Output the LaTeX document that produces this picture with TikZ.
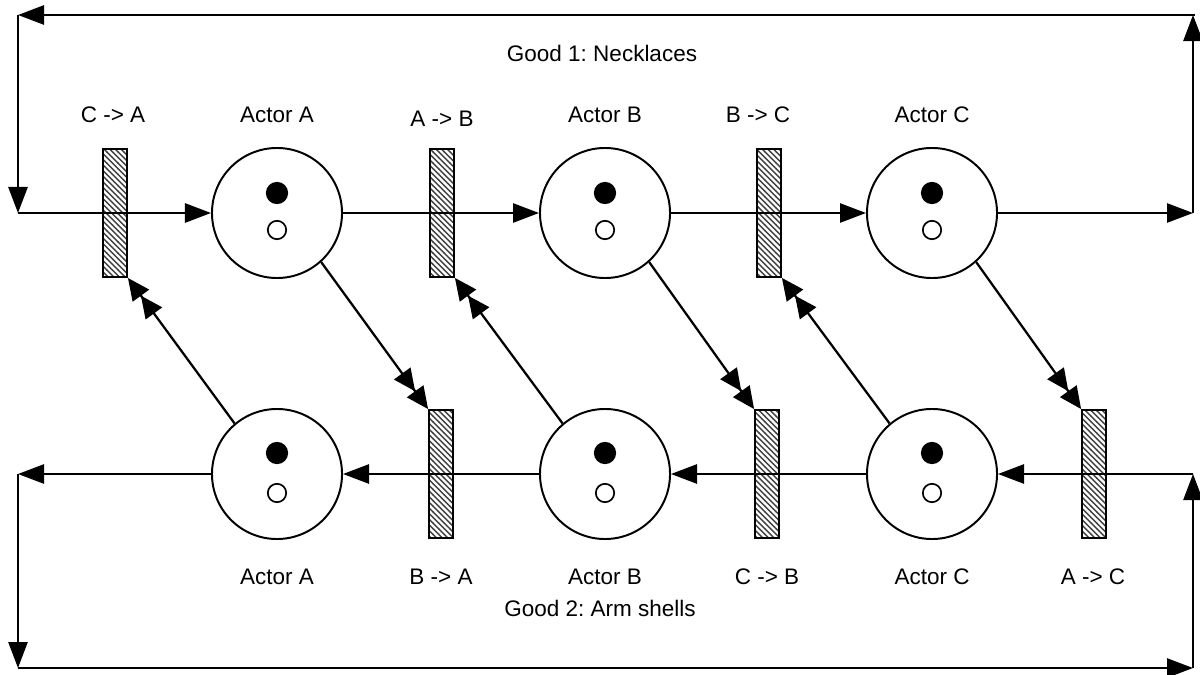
\documentclass[tikz,border=0pt]{standalone}
\usepackage{fontspec}
\setmainfont{Liberation Sans}
\usetikzlibrary{arrows.meta,patterns}

\pgfdeclarepatternformonly{hatch}{\pgfqpoint{-1pt}{-1pt}}{\pgfqpoint{5pt}{5pt}}{\pgfqpoint{4pt}{4pt}}{%
  \pgfsetlinewidth{1pt}%
  \pgfpathmoveto{\pgfqpoint{-0.1pt}{4.1pt}}%
  \pgfpathlineto{\pgfqpoint{4.1pt}{-0.1pt}}%
  \pgfusepath{stroke}}

\tikzset{
  actor/.style={circle,draw,line width=1.4pt,minimum size=3.25cm,inner sep=0pt},
  gate/.style={rectangle,draw,line width=1.3pt,minimum width=0.6cm,minimum height=3.2cm,inner sep=0pt,pattern=hatch,pattern color=black!75},
  tokfull/.style={circle,draw,fill=black,line width=1pt,minimum size=0.52cm,inner sep=0pt},
  tokopen/.style={circle,draw,fill=white,line width=1.2pt,minimum size=0.46cm,inner sep=0pt},
  flow/.style={line width=1.4pt,-{Triangle[length=0.65cm,width=0.48cm]}},
  cross/.style={line width=1.6pt,-{Triangle[length=0.55cm,width=0.5cm]Triangle[length=0.55cm,width=0.5cm]}},
  lbl/.style={anchor=base,font=\fontsize{16}{19}\selectfont},
}

\begin{document}
\frenchspacing
\begin{tikzpicture}[x=0.025cm,y=-0.025cm]
  \useasboundingbox (0,0) rectangle (1200,675);
  % corners of the outer loops
  \coordinate (tl) at (18,15);
  \coordinate (tr) at (1195,15);
  \coordinate (ml) at (18,213);
  \coordinate (mr) at (1193,213);
  \coordinate (nl) at (18,474);
  \coordinate (nr) at (1193,474);
  \coordinate (bl) at (18,668);
  \coordinate (br) at (1193,668);
  % actors with their tokens
  \foreach \n/\x in {A/277,B/605,C/932} {
    \node[actor] (\n1) at (\x,213) {};
    \node[tokfull] (\n1f) at (\x,193) {};
    \node[tokopen] (\n1o) at (\x,230) {};
    \node[actor] (\n2) at (\x,474) {};
    \node[tokfull] (\n2f) at (\x,453) {};
    \node[tokopen] (\n2o) at (\x,493) {};
  }
  % transitions
  \foreach \n/\x in {CA/115,AB/442,BC/769} \node[gate] (\n) at (\x,213) {};
  \foreach \n/\x in {BA/441,CB/767,AC/1094} \node[gate] (\n) at (\x,474) {};
  % good 1
  \draw[flow] (tr) -- (tl);
  \draw[flow] (tl) -- (ml);
  \draw[flow] (ml) -- (A1);
  \draw[flow] (A1) -- (B1);
  \draw[flow] (B1) -- (C1);
  \draw[flow] (C1) -- (mr);
  \draw[flow] (mr) -- (mr |- tl);
  % good 2
  \draw[flow] (nr) -- (C2);
  \draw[flow] (C2) -- (B2);
  \draw[flow] (B2) -- (A2);
  \draw[flow] (A2) -- (nl);
  \draw[flow] (nl) -- (bl);
  \draw[flow] (bl) -- (br);
  \draw[flow] (br) -- (nr);
  % exchanges between the rows
  \draw[cross] (A1.-48) -- (BA.north west);
  \draw[cross] (B1.-48) -- (CB.north west);
  \draw[cross] (C1.-48) -- (AC.north west);
  \draw[cross] (A2.130) -- (CA.south east);
  \draw[cross] (B2.130) -- (AB.south east);
  \draw[cross] (C2.130) -- (BC.south east);
  % labels
  \node[lbl] (g1) at (602,62) {Good 1: Necklaces};
  \node[lbl] (g2) at (600,616) {Good 2: Arm shells};
  \node[lbl] (lCA) at (113,123) {C -> A};
  \node[lbl] (lA1) at (277,123) {Actor A};
  \node[lbl] (lAB) at (442,127) {A -> B};
  \node[lbl] (lB1) at (605,123) {Actor B};
  \node[lbl] (lBC) at (758,123) {B -> C};
  \node[lbl] (lC1) at (932,123) {Actor C};
  \node[lbl] (lA2) at (277,584) {Actor A};
  \node[lbl] (lBA) at (441,584) {B -> A};
  \node[lbl] (lB2) at (605,584) {Actor B};
  \node[lbl] (lCB) at (767,584) {C -> B};
  \node[lbl] (lC2) at (932,584) {Actor C};
  \node[lbl] (lAC) at (1093,584) {A -> C};
\end{tikzpicture}
\end{document}
